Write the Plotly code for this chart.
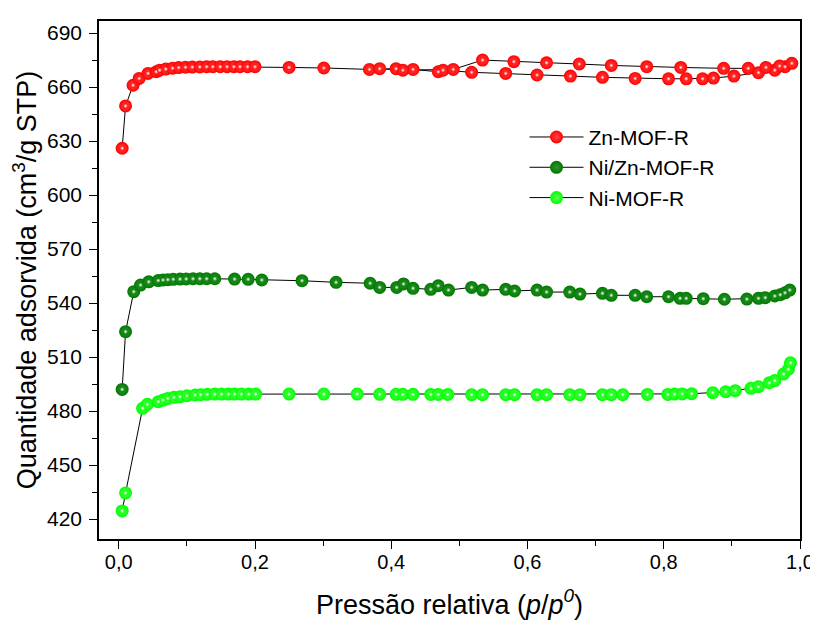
import plotly.graph_objects as go

# ---- data ----
zn_x = [0.005, 0.010, 0.021, 0.030, 0.043,
        0.055, 0.060, 0.069, 0.079, 0.088, 0.098, 0.108, 0.119, 0.129, 0.138, 0.149, 0.159, 0.169, 0.178, 0.189, 0.200,
        0.250, 0.301,
        0.368, 0.407, 0.432, 0.469, 0.476,
        0.518, 0.568, 0.614, 0.663, 0.710, 0.758, 0.807, 0.833, 0.857, 0.873, 0.903, 0.939, 0.963, 0.978,
        0.988,
        0.970, 0.950, 0.924, 0.888, 0.825, 0.775, 0.723, 0.676, 0.628, 0.580, 0.534,
        0.491, 0.417, 0.383]
zn_y = [626.0, 649.5, 661.0, 664.8, 667.6,
        668.5, 669.4, 670.0, 670.5, 670.8, 671.0, 671.1, 671.2, 671.3, 671.3, 671.3, 671.3, 671.3, 671.3, 671.3, 671.3,
        670.9, 670.6,
        669.8, 670.2, 669.8, 668.5, 669.4,
        668.2, 667.6, 666.7, 666.1, 665.4, 664.8, 664.6, 664.6, 664.6, 665.0, 666.1, 668.0, 669.4, 671.3,
        673.2,
        671.7, 670.9, 670.4, 670.4, 670.9, 671.3, 672.0, 672.8, 673.5, 674.1, 675.0,
        669.8, 669.4, 670.2]

nizn_x = [0.005, 0.010, 0.022, 0.032, 0.044,
          0.058, 0.065, 0.072, 0.080, 0.090, 0.099, 0.109, 0.119, 0.129, 0.141,
          0.170, 0.190, 0.210, 0.269, 0.319, 0.369,
          0.383, 0.408, 0.418, 0.432, 0.458, 0.469, 0.484,
          0.518, 0.534, 0.568, 0.581, 0.614, 0.628, 0.662, 0.677, 0.710, 0.723, 0.758, 0.775,
          0.807, 0.824, 0.833, 0.858, 0.889,
          0.922, 0.939, 0.949, 0.963, 0.971, 0.978, 0.985]
nizn_y = [492.0, 524.1, 546.3, 550.0, 551.8,
          552.5, 552.8, 553.0, 553.2, 553.3, 553.4, 553.5, 553.5, 553.5, 553.5,
          553.3, 553.2, 552.8, 552.4, 551.5, 551.0,
          548.7, 548.7, 550.6, 548.2, 547.6, 549.6, 547.2,
          548.7, 547.2, 547.6, 546.7, 547.2, 546.1, 546.1, 545.0, 545.4, 544.3, 544.3, 543.5,
          543.5, 542.6, 542.6, 542.4, 542.1,
          542.2, 542.6, 543.0, 543.9, 544.6, 545.7, 547.2]

ni_x = [0.005, 0.010, 0.035, 0.042,
        0.058, 0.065, 0.072, 0.081, 0.090, 0.100, 0.112, 0.120, 0.130,
        0.141, 0.151, 0.161, 0.170, 0.180, 0.191, 0.201,
        0.250, 0.301, 0.350, 0.383, 0.407, 0.417, 0.432, 0.458, 0.469, 0.483,
        0.518, 0.534, 0.568, 0.581, 0.614, 0.628, 0.662, 0.677, 0.710, 0.723, 0.740, 0.776,
        0.806, 0.816, 0.827, 0.841, 0.872, 0.891, 0.905, 0.928, 0.939, 0.955, 0.963, 0.976, 0.983, 0.986]
ni_y = [424.5, 434.5, 481.5, 483.7,
        485.2, 486.1, 487.0, 487.6, 487.9, 488.5, 488.9, 489.1, 489.3,
        489.4, 489.4, 489.4, 489.4, 489.4, 489.4, 489.4,
        489.4, 489.4, 489.4, 489.3, 489.3, 489.3, 489.3, 489.2, 489.2, 489.2,
        489.1, 489.1, 489.1, 489.1, 489.1, 489.1, 489.1, 489.1, 489.1, 489.1, 489.1, 489.2,
        489.2, 489.4, 489.5, 489.6, 490.2, 490.7, 491.3, 492.6, 493.5, 495.7, 496.9, 500.6, 503.2, 506.8]

series_names = ["Zn-MOF-R", "Ni/Zn-MOF-R", "Ni-MOF-R"]
series_colors = ["#ff0000", "#007a00", "#00ff00"]
series_tints = ["#ff4a4a", "#2f962f", "#5cff5c"]

x_ticks = [0.0, 0.2, 0.4, 0.6, 0.8, 1.0]
y_ticks = [420, 450, 480, 510, 540, 570, 600, 630, 660, 690]

FONT = "Liberation Sans, Arial, sans-serif"

fig = go.Figure()
data = [(zn_x, zn_y), (nizn_x, nizn_y), (ni_x, ni_y)]
for (xs, ys), name, col, tint in zip(data, series_names, series_colors, series_tints):
    fig.add_trace(go.Scatter(
        x=xs, y=ys, name=name, mode="lines+markers",
        line=dict(color="black", width=1),
        marker=dict(size=13, color=col, line=dict(width=0),
                    gradient=dict(type="radial", color=tint)),
    ))
for (xs, ys), col in zip(data, series_colors):
    fig.add_trace(go.Scatter(
        x=xs, y=ys, mode="markers", showlegend=False, hoverinfo="skip",
        marker=dict(size=5, color=col, line=dict(width=0),
                    gradient=dict(type="radial", color="white")),
    ))

# the page body has an 8 px margin, so the figure is 810x615 placed at (8, 8)
fig.update_layout(
    width=810, height=615,
    margin=dict(l=91, r=18, t=13, b=84, autoexpand=False),
    paper_bgcolor="white", plot_bgcolor="white",
    separators=", ",
    font=dict(family=FONT, color="black", size=20),
    showlegend=True,
    legend=dict(x=0.607, y=0.815, xanchor="left", yanchor="top",
                font=dict(size=21, family=FONT), bgcolor="rgba(0,0,0,0)",
                itemwidth=54, tracegroupgap=0),
)
fig.update_xaxes(
    range=[-0.029, 1.0], tickvals=x_ticks, tickformat=".1f",
    showgrid=False, zeroline=False, automargin=False,
    showline=True, linecolor="black", linewidth=1.5, mirror=True,
    ticks="outside", ticklen=8, tickwidth=1.2, tickcolor="black",
    minor=dict(dtick=0.1, tick0=0, ticks="outside", ticklen=5, tickwidth=1.2, tickcolor="black"),
    tickfont=dict(size=20, family=FONT), ticklabelstandoff=-4,
    title=dict(text="Pressão relativa (<i>p</i>/<i>p</i><sup><i>0</i></sup>)",
               font=dict(size=27, family=FONT), standoff=23),
)
fig.update_yaxes(
    range=[408.9, 696.7], tickvals=y_ticks,
    showgrid=False, zeroline=False, automargin=False,
    showline=True, linecolor="black", linewidth=1.5, mirror=True,
    ticks="outside", ticklen=8, tickwidth=1.2, tickcolor="black",
    minor=dict(dtick=15, tick0=420, ticks="outside", ticklen=5, tickwidth=1.2, tickcolor="black"),
    tickfont=dict(size=21, family=FONT), ticklabelstandoff=3,
    title=dict(text="Quantidade adsorvida (cm<sup>3</sup>/g STP)",
               font=dict(size=27, family=FONT), standoff=6),
)

fig.write_html("out.html")
